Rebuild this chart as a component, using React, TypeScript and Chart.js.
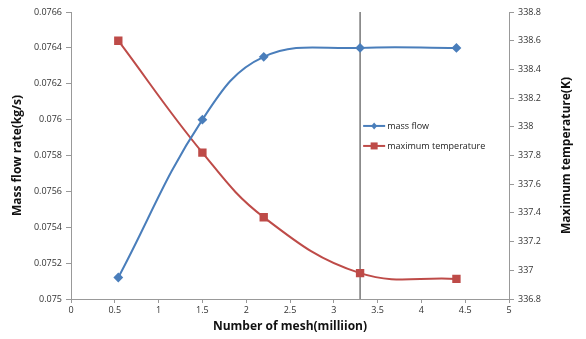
import React, { useEffect, useRef } from "react";
import { Chart, registerables } from "chart.js";

Chart.register(...registerables);

const meshMillions = [0.54, 1.5, 2.2, 3.3, 4.4];
const massFlow = [0.07512, 0.076, 0.07635, 0.0764, 0.0764];
const maxTemperature = [338.6, 337.82, 337.37, 336.98, 336.94];
const referenceMesh = 3.3;
const seriesNames = ["mass flow", "maximum temperature"];
const axisTitles = ["Number of mesh(milliion)", "Mass flow rate(kg/s)", "Maximum temperature(K)"];

const BLUE = "#4A7EBB";
const RED = "#BE4B48";
const FONT = "'Open Sans', 'DejaVu Sans', sans-serif";

const legendPlugin = {
  id: "insideLegend",
  afterDraw(chart: any) {
    const { ctx, chartArea } = chart;
    const x0 = chartArea.left + (chartArea.right - chartArea.left) * 0.667;
    const y0 = chartArea.top + (chartArea.bottom - chartArea.top) * 0.397;
    const items = [
      { name: seriesNames[0], color: BLUE, style: "rectRot", r: 3 },
      { name: seriesNames[1], color: RED, style: "rect", r: 3.5 },
    ];
    ctx.save();
    items.forEach((it, i) => {
      const y = y0 + i * 20;
      ctx.strokeStyle = it.color;
      ctx.lineWidth = 2;
      ctx.beginPath();
      ctx.moveTo(x0, y);
      ctx.lineTo(x0 + 22, y);
      ctx.stroke();
      ctx.fillStyle = it.color;
      if (it.style === "rect") {
        ctx.fillRect(x0 + 11 - it.r, y - it.r, it.r * 2, it.r * 2);
      } else {
        ctx.beginPath();
        ctx.moveTo(x0 + 11, y - it.r - 0.5);
        ctx.lineTo(x0 + 11 + it.r, y);
        ctx.lineTo(x0 + 11, y + it.r + 0.5);
        ctx.lineTo(x0 + 11 - it.r, y);
        ctx.closePath();
        ctx.fill();
      }
      ctx.fillStyle = "#222";
      ctx.font = `9px ${FONT}`;
      ctx.textBaseline = "middle";
      ctx.textAlign = "left";
      ctx.fillText(it.name, x0 + 24, y);
    });

    // axis titles
    const midY = (chartArea.top + chartArea.bottom) / 2;
    const midX = (chartArea.left + chartArea.right) / 2;
    ctx.fillStyle = "#111";
    ctx.font = `bold 12px ${FONT}`;
    ctx.textAlign = "center";
    ctx.textBaseline = "middle";
    ctx.fillText(axisTitles[0], midX, chartArea.bottom + 28);
    ctx.save();
    ctx.translate(chartArea.left - 53, midY);
    ctx.rotate(-Math.PI / 2);
    ctx.fillText(axisTitles[1], 0, 0);
    ctx.restore();
    ctx.save();
    ctx.translate(chartArea.right + 58, midY);
    ctx.rotate(-Math.PI / 2);
    ctx.fillText(axisTitles[2], 0, 0);
    ctx.restore();
    ctx.restore();
  },
};

document.body.style.margin = "0";

export default function App() {
  const ref = useRef<HTMLCanvasElement | null>(null);
  useEffect(() => {
    if (!ref.current) return;
    const chart = new Chart(ref.current, {
      type: "line",
      data: {
        datasets: [
          {
            label: seriesNames[0],
            data: meshMillions.map((x, i) => ({ x, y: massFlow[i] })),
            borderColor: BLUE,
            backgroundColor: BLUE,
            borderWidth: 2,
            pointStyle: "rectRot",
            pointRadius: 3.5,
            tension: 0.4,
            yAxisID: "y",
          },
          {
            label: seriesNames[1],
            data: meshMillions.map((x, i) => ({ x, y: maxTemperature[i] })),
            borderColor: RED,
            backgroundColor: RED,
            borderWidth: 2,
            pointStyle: "rect",
            pointRadius: 4.5,
            tension: 0.4,
            yAxisID: "y1",
          },
          {
            label: "ref",
            data: [
              { x: referenceMesh, y: 0.075 },
              { x: referenceMesh, y: 0.0766 },
            ],
            borderColor: "#555",
            borderWidth: 1.2,
            pointRadius: 0,
            yAxisID: "y",
          },
        ],
      },
      options: {
        animation: false,
        responsive: false,
        layout: { padding: { top: 12, left: 0, right: 0, bottom: 0 } },
        plugins: { legend: { display: false }, tooltip: { enabled: false } },
        scales: {
          x: {
            type: "linear",
            min: 0,
            max: 5,
            ticks: {
              stepSize: 0.5,
              color: "#333",
              font: { family: FONT, size: 9 },
              padding: 2,
              maxRotation: 0,
              callback: (v: any) => String(Number(Number(v).toFixed(1))),
            },
            grid: { drawOnChartArea: false, drawTicks: true, tickLength: 4, color: "#999" },
            border: { color: "#999" },
            afterFit: (s: any) => { s.height = 40; },
          },
          y: {
            type: "linear",
            position: "left",
            min: 0.075,
            max: 0.0766,
            ticks: {
              stepSize: 0.0002,
              color: "#333",
              font: { family: FONT, size: 9 },
              padding: 4,
              callback: (v: any) => String(Number(Number(v).toFixed(4))),
            },
            grid: { drawOnChartArea: false, drawTicks: true, tickLength: 5, color: "#999" },
            border: { color: "#999" },
            afterFit: (s: any) => { s.width = 71; },
          },
          y1: {
            type: "linear",
            position: "right",
            min: 336.8,
            max: 338.8,
            ticks: {
              stepSize: 0.2,
              color: "#333",
              font: { family: FONT, size: 9 },
              padding: 4,
              callback: (v: any) => String(Number(Number(v).toFixed(1))),
            },
            grid: { drawOnChartArea: false, drawTicks: true, tickLength: 5, color: "#999" },
            border: { color: "#999" },
            afterFit: (s: any) => { s.width = 77; },
          },
        },
      },
      plugins: [legendPlugin],
    } as any);
    return () => chart.destroy();
  }, []);
  return (
    <div style={{ width: 586, height: 339, background: "#fff" }}>
      <canvas ref={ref} width={586} height={339} style={{ display: "block" }} />
    </div>
  );
}
